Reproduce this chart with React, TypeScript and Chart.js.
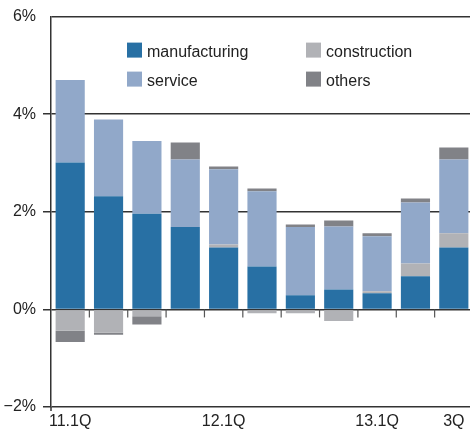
import React, { useEffect, useRef } from 'react';
import { Chart, registerables } from 'chart.js';

Chart.register(...registerables);

const categories = ['11.1Q', '11.2Q', '11.3Q', '11.4Q', '12.1Q', '12.2Q', '12.3Q', '12.4Q', '13.1Q', '13.2Q', '13.3Q'];
const xTickLabels = ['11.1Q', '', '', '', '12.1Q', '', '', '', '13.1Q', '', '3Q'];

const manufacturing = [3.01, 2.32, 1.96, 1.69, 1.27, 0.88, 0.29, 0.41, 0.33, 0.68, 1.27];
const construction = [-0.44, -0.48, -0.14, 0, 0.06, -0.08, -0.08, -0.24, 0.04, 0.26, 0.29];
const service = [1.69, 1.57, 1.49, 1.38, 1.54, 1.54, 1.40, 1.29, 1.13, 1.25, 1.51];
const others = [-0.23, -0.04, -0.17, 0.35, 0.06, 0.06, 0.05, 0.12, 0.06, 0.08, 0.25];

const yTicks = [-2, 0, 2, 4, 6];
const yTickLabels = ['\u22122%', '0%', '2%', '4%', '6%'];

const seriesNames = ['manufacturing', 'construction', 'service', 'others'];
const seriesColors = ['#2870a4', '#b1b2b6', '#91a8c9', '#818287'];

const FONT = '"Liberation Sans", Arial, Helvetica, sans-serif';

const innerLegend = {
  id: 'innerLegend',
  afterDraw(chart: any) {
    const { ctx, chartArea } = chart;
    const layout = [
      { ds: 0, col: 0, row: 0 },
      { ds: 2, col: 0, row: 1 },
      { ds: 1, col: 1, row: 0 },
      { ds: 3, col: 1, row: 1 },
    ];
    ctx.save();
    ctx.font = '16px ' + FONT;
    ctx.textBaseline = 'alphabetic';
    ctx.textAlign = 'left';
    layout.forEach(({ ds, col, row }) => {
      const dataset = chart.data.datasets[ds];
      const x = chartArea.left + 76 + col * 179;
      const y = chartArea.top + 26 + row * 29;
      ctx.fillStyle = dataset.backgroundColor;
      ctx.fillRect(x, y, 15, 15);
      ctx.fillStyle = '#222';
      ctx.fillText(dataset.label, x + 20, y + 14.5);
    });
    ctx.restore();
  },
};

const zeroTicks = {
  id: 'zeroTicks',
  afterDraw(chart: any) {
    const { ctx, chartArea } = chart;
    const xs = chart.scales.x;
    const ys = chart.scales.y;
    const y0 = ys.getPixelForValue(0);
    ctx.save();
    ctx.strokeStyle = '#555';
    ctx.lineWidth = 1.2;
    for (let i = 1; i < categories.length; i++) {
      const x = (xs.getPixelForValue(i - 1) + xs.getPixelForValue(i)) / 2;
      ctx.beginPath();
      ctx.moveTo(x, y0);
      ctx.lineTo(x, y0 + 8);
      ctx.stroke();
    }
    ctx.strokeStyle = '#333';
    ctx.lineWidth = 1.5;
    ctx.beginPath();
    ctx.moveTo(chartArea.left, chartArea.bottom);
    ctx.lineTo(chartArea.left, chartArea.bottom + 4);
    ctx.stroke();
    ctx.restore();
  },
};

export default function App() {
  const ref = useRef<HTMLCanvasElement>(null);
  useEffect(() => {
    const canvas = ref.current!;
    const values = [manufacturing, construction, service, others];
    const chart = new Chart(canvas, {
      type: 'bar',
      data: {
        labels: categories,
        datasets: seriesNames.map((name, i) => ({
          label: name,
          data: values[i],
          backgroundColor: seriesColors[i],
          borderWidth: 0,
          categoryPercentage: 1,
          barPercentage: 0.76,
        })),
      },
      options: {
        responsive: false,
        animation: false,
        devicePixelRatio: 1,
        layout: { padding: { top: 16, left: 0, right: 0, bottom: 0 } },
        plugins: {
          legend: { display: false },
          tooltip: { enabled: false },
        },
        scales: {
          x: {
            stacked: true,
            offset: true,
            grid: { display: false, drawTicks: false },
            border: { display: false },
            ticks: {
              autoSkip: false,
              maxRotation: 0,
              minRotation: 0,
              padding: 5,
              color: '#222',
              font: { family: FONT, size: 16 },
              callback: (_v: any, i: number) => xTickLabels[i],
            },
            afterFit: (scale: any) => {
              scale.height = 28;
            },
          },
          y: {
            stacked: true,
            min: -2,
            max: 6,
            z: 1,
            afterBuildTicks: (scale: any) => {
              scale.ticks = yTicks.map((v) => ({ value: v }));
            },
            ticks: {
              padding: 7,
              color: '#222',
              font: { family: FONT, size: 16 },
              callback: (v: any) => yTickLabels[yTicks.indexOf(Number(v))],
            },
            grid: {
              color: '#333',
              lineWidth: 1.5,
              tickLength: 8,
              drawTicks: true,
              tickColor: (c: any) => (c.tick && c.tick.value === 6 ? 'rgba(0,0,0,0)' : '#333'),
            },
            border: { display: true, color: '#333', width: 1.5 },
            afterFit: (scale: any) => {
              scale.width = 51;
            },
          },
        },
      },
      plugins: [innerLegend, zeroTicks],
    });
    return () => chart.destroy();
  }, []);
  return (
    <div
      style={{
        position: 'fixed',
        left: 0,
        top: 0,
        width: 470,
        height: 435,
        overflow: 'hidden',
        background: '#fff',
      }}
    >
      <canvas ref={ref} width={473} height={435} style={{ display: 'block' }} />
    </div>
  );
}
